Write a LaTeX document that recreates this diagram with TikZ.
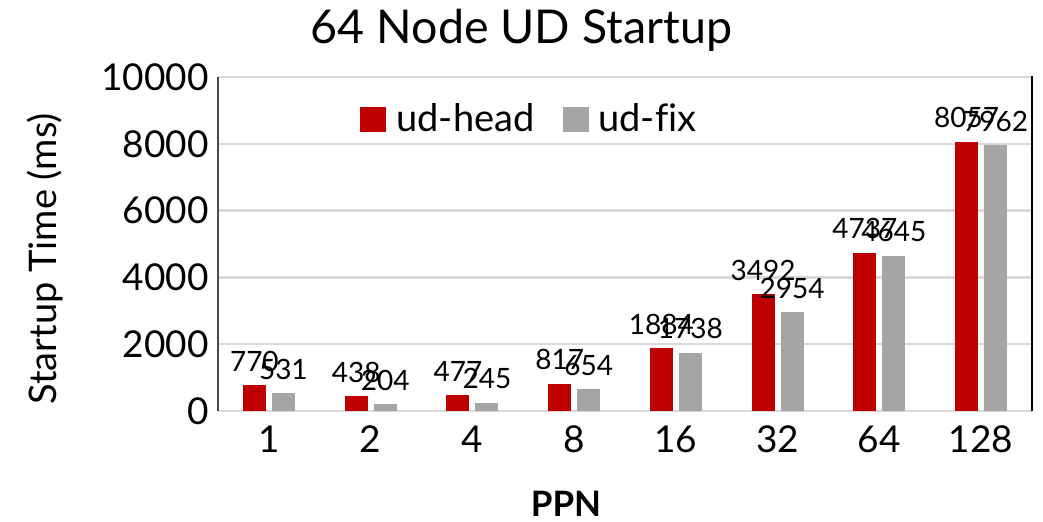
\documentclass[tikz,border=0pt]{standalone}
\usepackage{fontspec}
\setmainfont{Lato}[Ligatures=NoCommon]
\usepackage{xcolor}
\definecolor{headred}{RGB}{192,0,0}
\definecolor{fixgray}{RGB}{165,165,165}
\definecolor{gridgray}{RGB}{217,217,217}

\begin{document}
\begin{tikzpicture}[x=0.5pt, y=0.5pt,
    gridline/.style={gridgray, line width=1.2pt},
    ticklabel/.style={font=\fontsize{18.5}{20}\selectfont, inner sep=0pt},
    vallabel/.style={font=\fontsize{14}{16}\selectfont, inner sep=0pt},
    legendlabel/.style={font=\fontsize{19}{22}\selectfont, inner sep=0pt}]
    \useasboundingbox (0,0) rectangle (1043,522);

    % Title
    \node[font=\fontsize{23.3}{28}\selectfont, inner sep=0pt] (title) at (521.5,492) {64 Node UD Startup};

    % Grid lines and y ticks
    \foreach \v [count=\k from 0] in {0,2000,...,10000} {
        \coordinate (g\k) at (218,{111+\v*0.0334});
        \draw[gridline] (g\k) -- ++(814,0);
        \node[ticklabel, anchor=east] (t\k) at (209,{111+\v*0.0334}) {\v};
    }

    % Axes
    \draw[black!70, line width=1.2pt] (g0) -- (g5);
    \draw[black, line width=1.2pt] (1032,111) -- (1032,446);

    % Bars with value labels
    \foreach \h/\f/\p [count=\i from 0] in {770/531/1, 438/204/2, 477/245/4, 817/654/8,
        1884/1738/16, 3492/2954/32, 4737/4645/64, 8057/7962/128} {
        \pgfmathsetmacro{\cx}{218+101.75*(\i+0.5)}
        \fill[headred] ({\cx-26},111) rectangle ({\cx-3},{111+\h*0.0334});
        \fill[fixgray] ({\cx+3},111) rectangle ({\cx+26},{111+\f*0.0334});
        \node[vallabel] (h\i) at ({\cx-14.5},{135+\h*0.0334}) {\h};
        \node[vallabel] (f\i) at ({\cx+14.5},{135+\f*0.0334}) {\f};
        \node[ticklabel] (x\i) at (\cx,82.5) {\p};
    }

    % Legend
    \fill[headred] (360,390) rectangle (386,415);
    \node[legendlabel, anchor=base west] (lhead) at (396,390) {ud-head};
    \fill[fixgray] (563,390) rectangle (589,415);
    \node[legendlabel, anchor=base west] (lfix) at (598,390) {ud-fix};

    % Axis titles
    \node[font=\fontsize{19}{22}\selectfont, rotate=90, inner sep=0pt] (ylabel) at (45,263) {Startup Time (ms)};
    \node[font=\fontsize{17.5}{20}\selectfont\bfseries, inner sep=0pt] (xlabel) at (566,18) {PPN};
\end{tikzpicture}
\end{document}
